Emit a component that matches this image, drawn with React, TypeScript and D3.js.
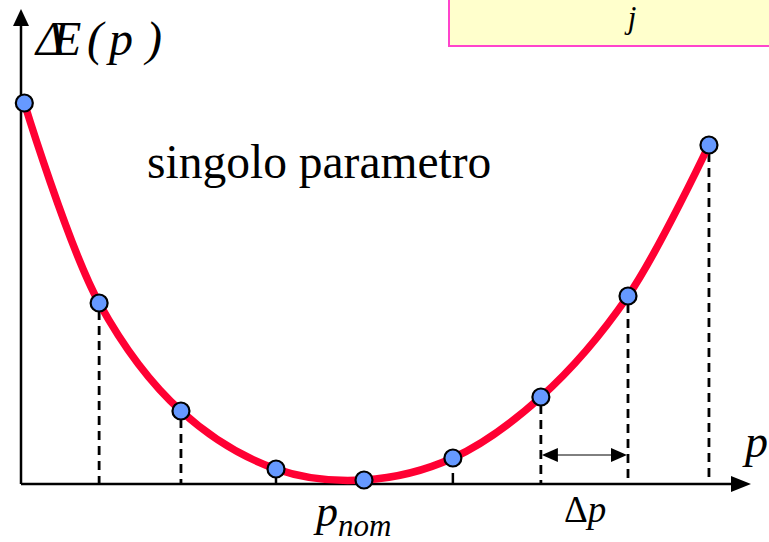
import React from "react";
import * as d3 from "d3";

// Parameter samples, in units of Δp around p_nom (p = 0)
const pValues = [-3.86, -3.01, -2.08, -1.0, 0, 1.01, 2.01, 3.0, 3.92];
// ΔE(p) at each sample
const deltaE = [381, 181, 73, 15, 4, 26, 87, 188, 339];
// Samples that get a dashed drop line and those that get a short tick
const dashedIdx = [1, 2, 6, 7, 8];
const tickIdx = [3, 5];

const W = 769;
const H = 542;
const AXIS_Y = 484;
const AXIS_X = 21;

const FONT = "'Liberation Serif', 'Times New Roman', serif";

export default function App() {
  const x = d3.scaleLinear().domain([0, 1]).range([364, 452]);
  const y = d3.scaleLinear().domain([0, 400]).range([AXIS_Y, AXIS_Y - 400]);

  const pts: [number, number][] = pValues.map((p, i) => [x(p), y(deltaE[i])]);
  const line = d3.line().curve(d3.curveCatmullRom.alpha(0.5));
  const path = line(pts) || "";

  const dpStart = x(2.01);
  const dpEnd = x(3.0);
  const dpY = 455;

  return (
    <svg
      width={W}
      height={H}
      style={{ position: "absolute", left: 0, top: 0, background: "#fff" }}
      fontFamily={FONT}
    >
      {/* top box */}
      <rect x={449} y={-10} width={340} height={56} fill="#ffffcc" stroke="#ff44cc" strokeWidth={2} />
      <text x={632} y={28} fontSize={31} fontStyle="italic" textAnchor="middle">j</text>

      {/* axes */}
      <line x1={AXIS_X} y1={AXIS_Y} x2={736} y2={AXIS_Y} stroke="#000" strokeWidth={2.5} />
      <path d={`M751,${AXIS_Y} L731,${AXIS_Y - 8} L731,${AXIS_Y + 8} Z`} fill="#000" />
      <line x1={AXIS_X} y1={AXIS_Y} x2={AXIS_X} y2={24} stroke="#000" strokeWidth={2.5} />
      <path d={`M${AXIS_X},9 L${AXIS_X - 8},26 L${AXIS_X + 8},26 Z`} fill="#000" />

      {/* drop lines */}
      {dashedIdx.map((i) => (
        <line
          key={"d" + i}
          x1={pts[i][0]}
          x2={pts[i][0]}
          y1={pts[i][1] + 8}
          y2={AXIS_Y}
          stroke="#000"
          strokeWidth={2.8}
          strokeDasharray="9 6"
        />
      ))}
      {tickIdx.map((i) => (
        <line key={"t" + i} x1={pts[i][0]} x2={pts[i][0]} y1={AXIS_Y - 11} y2={AXIS_Y} stroke="#000" strokeWidth={2.5} />
      ))}

      {/* Δp interval */}
      <line x1={dpStart + 14} x2={dpEnd - 14} y1={dpY} y2={dpY} stroke="#000" strokeWidth={1} />
      <path d={`M${dpStart + 1},${dpY} L${dpStart + 17},${dpY - 7} L${dpStart + 17},${dpY + 7} Z`} fill="#000" />
      <path d={`M${dpEnd - 1},${dpY} L${dpEnd - 17},${dpY - 7} L${dpEnd - 17},${dpY + 7} Z`} fill="#000" />

      {/* curve */}
      <path d={path} fill="none" stroke="#ff0033" strokeWidth={7.5} strokeLinecap="round" />

      {/* sample points */}
      {pts.map(([px, py], i) => (
        <circle key={"c" + i} cx={px} cy={py} r={8.5} fill="#6699ff" stroke="#000" strokeWidth={2.2} />
      ))}

      {/* labels */}
      <text y={55} fontSize={48} fontStyle="italic">
        <tspan x={36}>Δ</tspan>
        <tspan x={52}>E</tspan>
        <tspan x={87}>(</tspan>
        <tspan x={109}>p</tspan>
        <tspan x={146}>)</tspan>
      </text>
      <text x={147} y={178} fontSize={47.5}>singolo parametro</text>
      <text x={316} y={526} fontSize={44} fontStyle="italic">
        p<tspan fontSize={31} dy={10}>nom</tspan>
      </text>
      <text x={564} y={522} fontSize={37}>
        Δ<tspan fontStyle="italic">p</tspan>
      </text>
      <text x={745} y={457} fontSize={46} fontStyle="italic">p</text>
    </svg>
  );
}
